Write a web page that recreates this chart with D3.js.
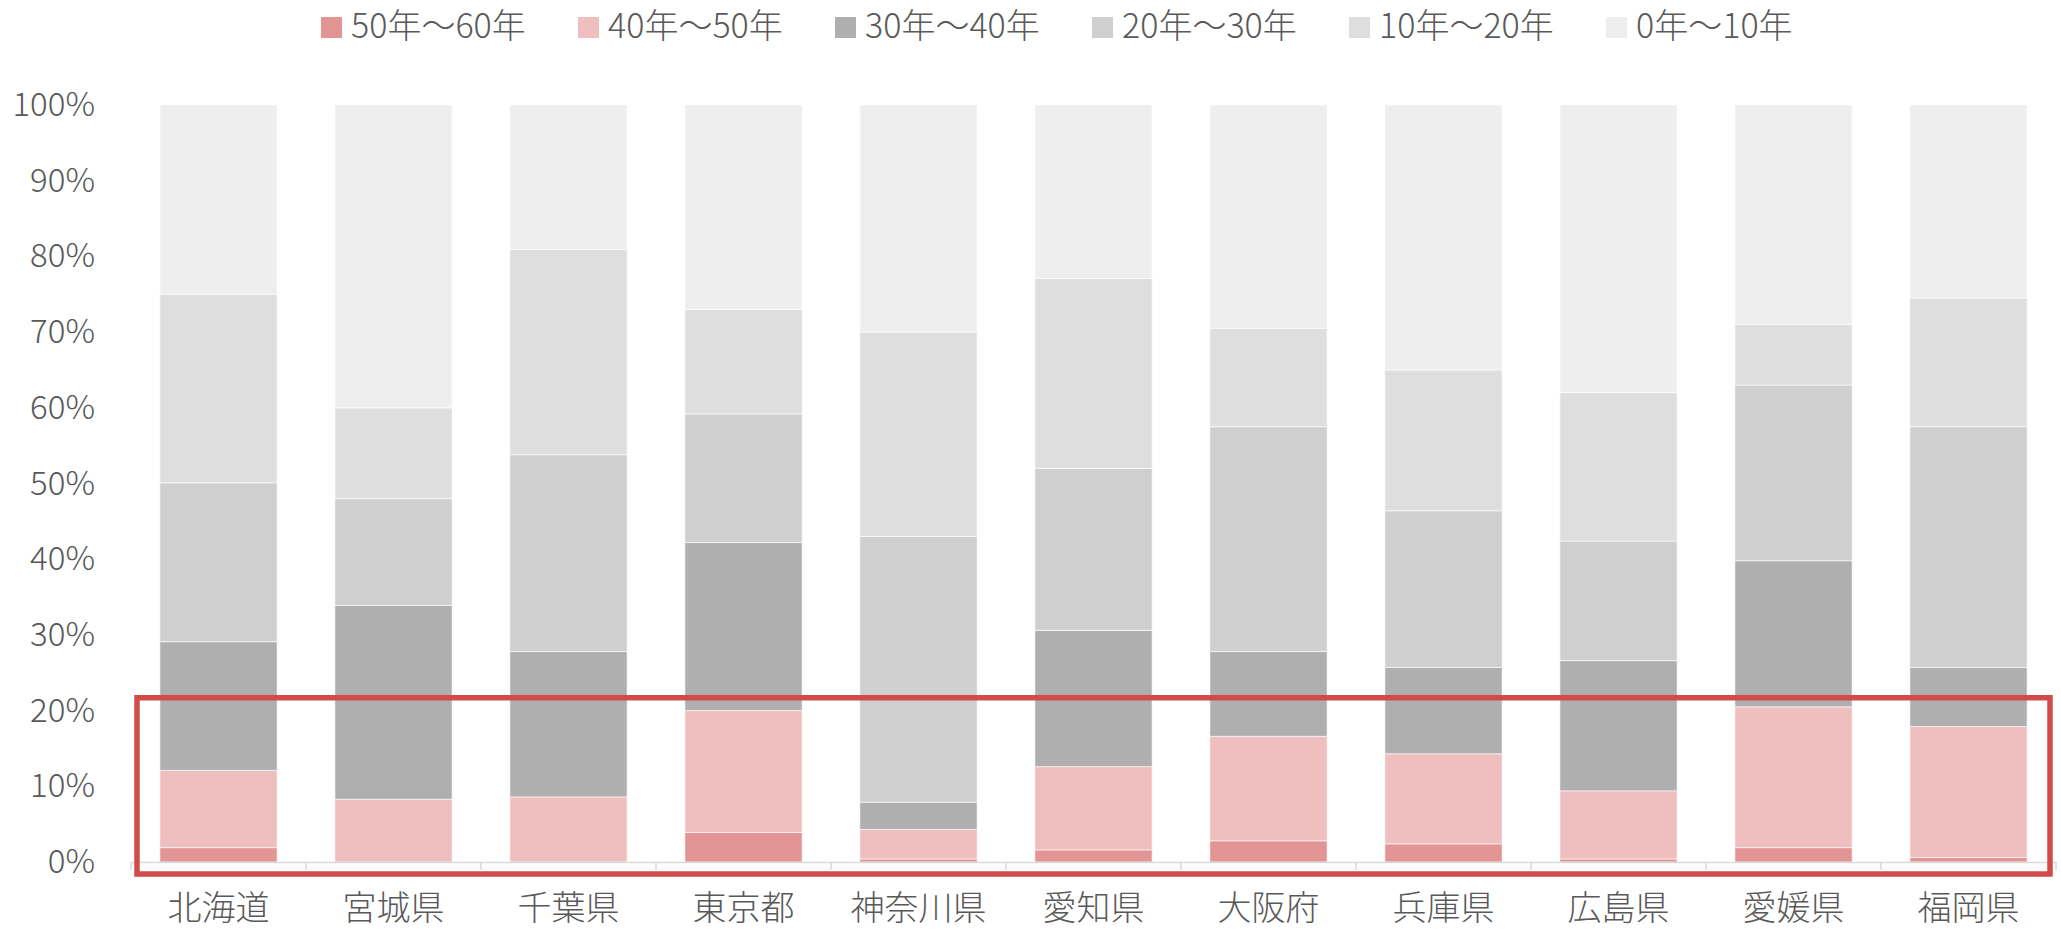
<!DOCTYPE html>
<html>
<head>
<meta charset="utf-8">
<script src="https://cdn.jsdelivr.net/npm/d3@7"></script>
<style>
  body { margin: 0; background: #fff; }
  text { font-family: "Noto Sans CJK JP", "Noto Sans", sans-serif; font-weight: 300; fill: #595959; }
</style>
</head>
<body>
<script>
var width = 2061;
var height = 932;

// prefectures along the x axis
var categories = ["北海道", "宮城県", "千葉県", "東京都", "神奈川県", "愛知県",
                  "大阪府", "兵庫県", "広島県", "愛媛県", "福岡県"];

// legend / series names, bottom of the stack first
var seriesNames = ["50年～60年", "40年～50年", "30年～40年", "20年～30年", "10年～20年", "0年～10年"];

// share of each age band (%)
var age50to60 = [1.9, 0.0, 0.0, 3.9, 0.4, 1.6, 2.8, 2.4, 0.4, 1.9, 0.6];
var age40to50 = [10.2, 8.3, 8.6, 16.1, 3.9, 11.0, 13.8, 11.9, 9.0, 18.6, 17.3];
var age30to40 = [17.0, 25.6, 19.2, 22.2, 3.6, 18.0, 11.2, 11.4, 17.2, 19.3, 7.8];
var age20to30 = [21.0, 14.1, 26.0, 17.0, 35.1, 21.4, 29.7, 20.7, 15.8, 23.2, 31.8];
var age10to20 = [24.9, 12.0, 27.1, 13.8, 27.0, 25.1, 13.0, 18.6, 19.6, 8.0, 17.0];
var age0to10  = [25.0, 40.0, 19.1, 27.0, 30.0, 22.9, 29.5, 35.0, 38.0, 29.0, 25.5];

var yTicks = [0, 0.1, 0.2, 0.3, 0.4, 0.5, 0.6, 0.7, 0.8, 0.9, 1];

var colors = ["#E39595", "#EFBEBE", "#AFAFAF", "#CFCFCF", "#DEDEDE", "#EEEEEE"];

var seriesValues = [age50to60, age40to50, age30to40, age20to30, age10to20, age0to10];

var data = categories.map(function(c, i) {
  var row = {cat: c};
  seriesNames.forEach(function(s, j) { row[s] = seriesValues[j][i] / 100; });
  return row;
});

var margin = {top: 105, left: 131, right: 5, bottom: 70};

var svg = d3.select("body")
  .append("svg")
  .attr("width", width)
  .attr("height", height);

var pad = 0.33;
var xScale = d3.scaleBand()
  .domain(categories)
  .range([margin.left, width - margin.right])
  .paddingInner(pad)
  .paddingOuter(pad / 2);

var yScale = d3.scaleLinear()
  .domain([0, 1])
  .range([height - margin.bottom, margin.top]);

var stacked = d3.stack().keys(seriesNames)(data);

svg.append("g")
  .selectAll("g")
  .data(stacked)
  .enter()
  .append("g")
    .attr("fill", function(d, i) { return colors[i]; })
  .selectAll("rect")
  .data(function(d) { return d; })
  .enter()
  .append("rect")
    .attr("x", function(d) { return xScale(d.data.cat); })
    .attr("y", function(d) { return yScale(d[1]); })
    .attr("width", xScale.bandwidth())
    .attr("height", function(d) { return yScale(d[0]) - yScale(d[1]); })
    .attr("stroke", "#ffffff")
    .attr("stroke-opacity", 0.6)
    .attr("stroke-width", 1);

// y axis (labels only)
var yAxis = svg.append("g")
  .attr("transform", "translate(" + margin.left + ",0)")
  .call(d3.axisLeft(yScale).tickValues(yTicks).tickFormat(d3.format(".0%"))
        .tickSize(0).tickPadding(36));
yAxis.select(".domain").remove();
yAxis.selectAll("text")
  .style("font-size", "33px")
  .attr("fill", "#595959");

// x axis line with category boundary ticks
var x0 = xScale.range()[0], x1 = xScale.range()[1];
var xAxis = svg.append("g")
  .attr("transform", "translate(0," + yScale(0) + ")")
  .call(d3.axisBottom(xScale).tickSize(0).tickSizeOuter(0).tickPadding(34));
xAxis.select(".domain").attr("stroke", "#D9D9D9").attr("stroke-width", 1.5);
xAxis.selectAll("text")
  .style("font-size", "34px")
  .attr("fill", "#595959");
xAxis.selectAll("line.bound")
  .data(d3.range(categories.length + 1))
  .enter()
  .append("line")
    .attr("class", "bound")
    .attr("x1", function(i) { return x0 + i * xScale.step(); })
    .attr("x2", function(i) { return x0 + i * xScale.step(); })
    .attr("y1", 0)
    .attr("y2", 8)
    .attr("stroke", "#D9D9D9")
    .attr("stroke-width", 1.5);

// highlight box
svg.append("rect")
  .attr("x", x0 + 6)
  .attr("y", yScale(0.217))
  .attr("width", (x1 - x0) - 12)
  .attr("height", yScale(0) - yScale(0.217) + 12)
  .attr("fill", "none")
  .attr("stroke", "#D14B4B")
  .attr("stroke-width", 5.5);

// legend
var legend = svg.append("g")
  .selectAll("g")
  .data(seriesNames)
  .enter()
  .append("g")
    .attr("transform", function(d, i) { return "translate(" + (321 + i * 257) + ",17)"; });
legend.append("rect")
  .attr("width", 21)
  .attr("height", 21)
  .attr("fill", function(d, i) { return colors[i]; });
legend.append("text")
  .attr("x", 30)
  .attr("y", 21)
  .style("font-size", "34px")
  .text(function(d) { return d; });
</script>
</body>
</html>
